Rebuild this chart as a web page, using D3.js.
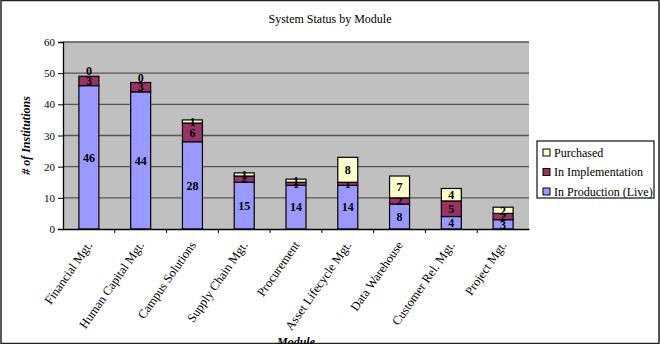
<!DOCTYPE html>
<html>
<head>
<meta charset="utf-8">
<script src="https://cdn.jsdelivr.net/npm/d3@7"></script>
<style>
  body { margin: 0; background: #fff; }
</style>
</head>
<body>
<svg id="chart" width="660" height="344"></svg>
<script>
// data
var modules = ['Financial Mgt.', 'Human Capital Mgt.', 'Campus Solutions', 'Supply Chain Mgt.',
    'Procurement', 'Asset Lifecycle Mgt.', 'Data Warehouse', 'Customer Rel. Mgt.', 'Project Mgt.'];
var live = [46, 44, 28, 15, 14, 14, 8, 4, 3];
var implementation = [3, 3, 6, 2, 1, 1, 2, 5, 2];
var purchased = [0, 0, 1, 1, 1, 8, 7, 4, 2];
var seriesNames = ['In Production (Live)', 'In Implementation', 'Purchased'];
var seriesColors = ['#9999ff', '#993366', '#ffffcc'];
var yTicks = [0, 10, 20, 30, 40, 50, 60];

var serif = "'Liberation Serif', 'Times New Roman', serif";
var svg = d3.select('#chart');
var plotLeft = 63, plotRight = 529, plotTop = 42, plotBottom = 229;

// frame round the whole chart
svg.append('rect')
    .attr('x', 1).attr('y', 0.5).attr('width', 658).attr('height', 343)
    .attr('fill', '#fff').attr('stroke', '#222').attr('stroke-width', 1.5);

var rows = modules.map(function (m, i) {
    return { module: m, live: live[i], impl: implementation[i], purchased: purchased[i] };
});
var keys = ['live', 'impl', 'purchased'];
var stacked = d3.stack().keys(keys)(rows);

var x = d3.scaleBand().domain(modules).range([plotLeft, plotRight]).paddingInner(0.614).paddingOuter(0.307);
var y = d3.scaleLinear().domain([0, 60]).range([plotBottom, plotTop]);

// plot area
svg.append('rect')
    .attr('x', plotLeft).attr('y', plotTop).attr('width', plotRight - plotLeft).attr('height', plotBottom - plotTop)
    .attr('fill', '#c0c0c0');

// gridlines
svg.append('g').selectAll('line')
    .data(yTicks.slice(1)).enter()
    .append('line')
    .attr('x1', plotLeft).attr('x2', plotRight)
    .attr('y1', function (d) { return y(d); })
    .attr('y2', function (d) { return y(d); })
    .attr('stroke', '#555').attr('stroke-width', 1.3);

// bars
var layers = svg.append('g').selectAll('g')
    .data(stacked).enter()
    .append('g')
    .attr('fill', function (d, i) { return seriesColors[i]; });

layers.selectAll('rect')
    .data(function (d) { return d; }).enter()
    .append('rect')
    .attr('x', function (d) { return x(d.data.module); })
    .attr('width', x.bandwidth())
    .attr('y', function (d) { return y(d[1]); })
    .attr('height', function (d) { return y(d[0]) - y(d[1]); })
    .attr('stroke', '#000').attr('stroke-width', 1.2);

// value labels
layers.selectAll('text')
    .data(function (d) { return d.map(function (p) { p.key = d.key; return p; }); }).enter()
    .append('text')
    .attr('x', function (d) { return x(d.data.module) + x.bandwidth() / 2; })
    .attr('y', function (d) {
        if (d[1] - d[0] == 0) return y(d[1]) - 1;
        return (y(d[0]) + y(d[1])) / 2;
    })
    .attr('dy', function (d) { return (d[1] - d[0] == 0) ? '0' : '0.35em'; })
    .attr('text-anchor', 'middle')
    .attr('fill', '#000')
    .attr('font-size', '12px')
    .attr('font-weight', 'bold')
    .style('font-family', serif)
    .text(function (d) { return d.data[d.key]; });

// axes
var yAxis = svg.append('g')
    .attr('transform', 'translate(' + plotLeft + ',0)')
    .call(d3.axisLeft(y).tickValues(yTicks).tickSize(5).tickPadding(3));
var xAxis = svg.append('g')
    .attr('transform', 'translate(0,' + plotBottom + ')')
    .call(d3.axisBottom(x).tickSize(0).tickFormat(''));
svg.selectAll('.domain').attr('stroke', '#000').attr('stroke-width', 1.3);
yAxis.selectAll('line').attr('stroke', '#000');
yAxis.selectAll('text').attr('font-size', '11px').style('font-family', serif);

// category boundary ticks
var step = x.step();
svg.append('g').selectAll('line')
    .data(modules.slice(1)).enter()
    .append('line')
    .attr('x1', function (d) { return x(d) - (step - x.bandwidth()) / 2; })
    .attr('x2', function (d) { return x(d) - (step - x.bandwidth()) / 2; })
    .attr('y1', plotBottom).attr('y2', plotBottom + 4)
    .attr('stroke', '#000');

// rotated category labels
svg.append('g').selectAll('text')
    .data(modules).enter()
    .append('text')
    .attr('transform', function (d) {
        return 'translate(' + (x(d) + x.bandwidth() / 2 + 4) + ',' + (plotBottom + 16) + ') rotate(-55)';
    })
    .attr('text-anchor', 'end')
    .attr('font-size', '12.5px')
    .style('font-family', serif)
    .text(function (d) { return d; });

// titles
svg.append('text')
    .attr('x', 330).attr('y', 23)
    .attr('text-anchor', 'middle')
    .attr('font-size', '12px')
    .style('font-family', serif)
    .text('System Status by Module');

svg.append('text')
    .attr('transform', 'translate(30,' + ((plotTop + plotBottom) / 2) + ') rotate(-90)')
    .attr('text-anchor', 'middle')
    .attr('font-size', '12px')
    .attr('font-weight', 'bold').attr('font-style', 'italic')
    .style('font-family', serif)
    .text('# of Institutions');

svg.append('text')
    .attr('x', (plotLeft + plotRight) / 2).attr('y', 346)
    .attr('text-anchor', 'middle')
    .attr('font-size', '12px')
    .attr('font-weight', 'bold').attr('font-style', 'italic')
    .style('font-family', serif)
    .text('Module');

// legend
var legend = svg.append('g').attr('transform', 'translate(537,141)');
legend.append('rect')
    .attr('width', 117).attr('height', 57)
    .attr('fill', '#fff').attr('stroke', '#222').attr('stroke-width', 1.3);
var items = legend.selectAll('g.item')
    .data([2, 1, 0]).enter()
    .append('g')
    .attr('class', 'item')
    .attr('transform', function (d, i) { return 'translate(6,' + (11.5 + i * 19.5) + ')'; });
items.append('rect')
    .attr('x', 0).attr('y', -3.5).attr('width', 7).attr('height', 7)
    .attr('fill', function (d) { return seriesColors[d]; })
    .attr('stroke', '#000').attr('stroke-width', 1);
items.append('text')
    .attr('x', 11).attr('dy', '0.35em')
    .attr('font-size', '12px')
    .style('font-family', serif)
    .text(function (d) { return seriesNames[d]; });
</script>
</body>
</html>
